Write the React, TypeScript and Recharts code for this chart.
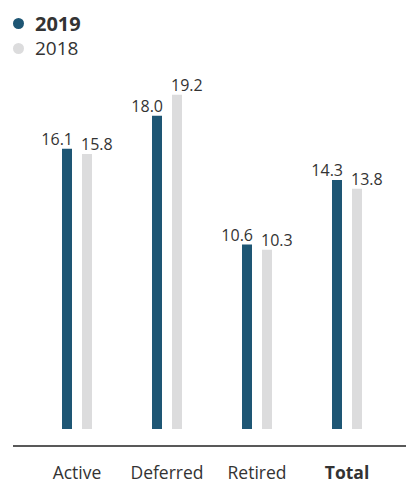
import React from "react";
import { BarChart, Bar, XAxis, YAxis, LabelList } from "recharts";

const categories = ["Active", "Deferred", "Retired", "Total"];
const values2019 = [16.1, 18.0, 10.6, 14.3];
const values2018 = [15.8, 19.2, 10.3, 13.8];

const COLOR_2019 = "#1e5674";
const COLOR_2018 = "#dcdcdd";
const TEXT = "#333333";
const FONT = "'Open Sans', 'Noto Sans', sans-serif";

const data = categories.map((name, i) => ({
	name,
	y2019: values2019[i],
	y2018: values2018[i],
}));

function CategoryTick(props: any) {
	const { x, payload } = props;
	const bold = payload.value === "Total";
	// baseline kept just above the bottom edge so descent space fits
	return (
		<text
			x={x}
			y={479}
			textAnchor="middle"
			fill={TEXT}
			fontFamily={FONT}
			fontSize={17.5}
			fontWeight={bold ? 700 : 400}
		>
			{payload.value}
		</text>
	);
}

function makeLabel(side: "left" | "right") {
	return (props: any) => {
		const { x, y, width, value } = props;
		return (
			<text
				x={side === "left" ? x + width + 1 : x - 1}
				y={y - 4}
				textAnchor={side === "left" ? "end" : "start"}
				fill={TEXT}
				fontFamily={FONT}
				fontSize={16}
			>
				{Number(value).toFixed(1)}
			</text>
		);
	};
}

export default function App() {
	return (
		<div
			style={{
				position: "absolute",
				left: 0,
				top: 0,
				width: 406,
				height: 484,
				background: "#fff",
				fontFamily: FONT,
			}}
		>
			<div style={{ position: "absolute", left: 13, top: 10, color: TEXT }}>
				<div style={{ display: "flex", alignItems: "center", height: 26 }}>
					<span
						style={{
							width: 11,
							height: 11,
							borderRadius: "50%",
							background: COLOR_2019,
							display: "inline-block",
							marginRight: 11,
						}}
					/>
					<span style={{ fontSize: 20, fontWeight: 700 }}>2019</span>
				</div>
				<div style={{ display: "flex", alignItems: "center", height: 24 }}>
					<span
						style={{
							width: 11,
							height: 11,
							borderRadius: "50%",
							background: COLOR_2018,
							display: "inline-block",
							marginRight: 11,
						}}
					/>
					<span style={{ fontSize: 19 }}>2018</span>
				</div>
			</div>
			<BarChart
				width={406}
				height={484}
				data={data}
				margin={{ top: 60, right: 0, bottom: 0, left: 13 }}
				barSize={10}
				barGap={10}
			>
				<YAxis hide domain={[-0.976, 21.2]} allowDataOverflow type="number" />
				<XAxis
					dataKey="name"
					height={38}
					padding={{ left: 19, right: 14 }}
					axisLine={{ stroke: "#222", strokeWidth: 1.5 }}
					tickLine={false}
					tick={<CategoryTick />}
					interval={0}
				/>
				<Bar dataKey="y2019" fill={COLOR_2019} isAnimationActive={false}>
					<LabelList dataKey="y2019" content={makeLabel("left")} />
				</Bar>
				<Bar dataKey="y2018" fill={COLOR_2018} isAnimationActive={false}>
					<LabelList dataKey="y2018" content={makeLabel("right")} />
				</Bar>
			</BarChart>
		</div>
	);
}
